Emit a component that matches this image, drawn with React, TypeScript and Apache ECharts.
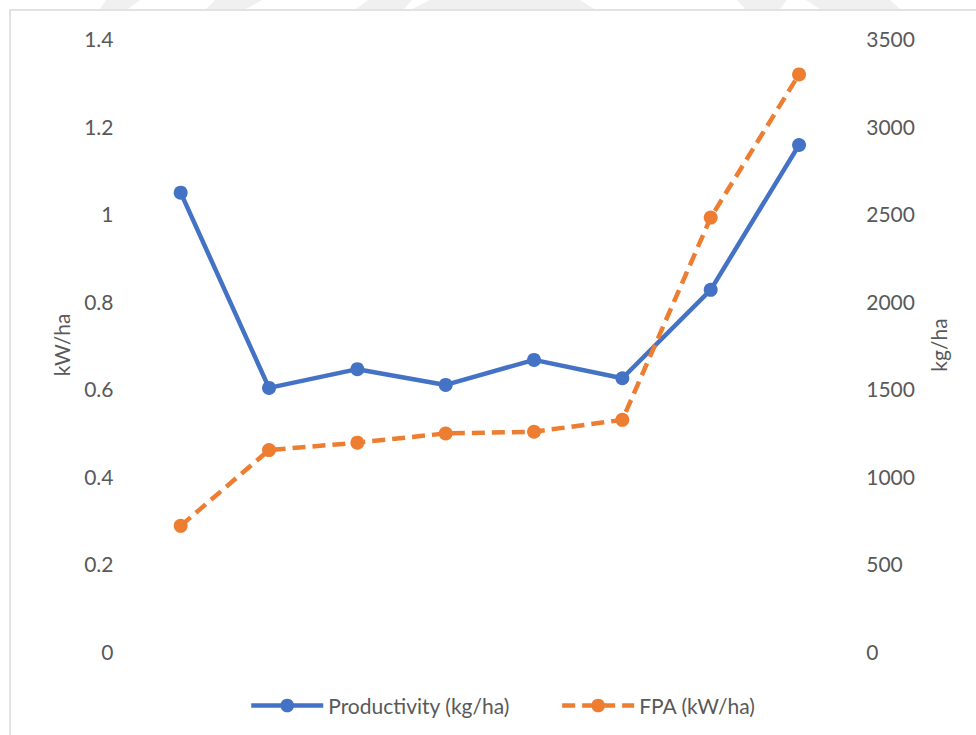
import React, { useEffect, useRef } from "react";
import * as echarts from "echarts";

// Eight sampled sites along the x axis (not labelled on the chart)
const categories = ["1", "2", "3", "4", "5", "6", "7", "8"];
// Productivity in kg/ha (right axis)
const productivity = [2620, 1505, 1612, 1522, 1665, 1560, 2065, 2892];
// Farm power availability in kW/ha (left axis)
const fpa = [0.287, 0.46, 0.477, 0.498, 0.502, 0.529, 0.991, 1.318];

const leftMax = 1.4;
const leftStep = 0.2;
const rightMax = 3500;
const rightStep = 500;

const BLUE = "#4472c4";
const ORANGE = "#ed7d31";
const TEXT = "#595959";
const FONT = "Lato, 'Open Sans', sans-serif";
const FS = 21;

export default function App() {
  const ref = useRef<HTMLDivElement>(null);

  useEffect(() => {
    if (!ref.current) return;
    const chart = echarts.init(ref.current, undefined, { renderer: "svg" });
    chart.setOption({
      animation: false,
      backgroundColor: "#ffffff",
      textStyle: { fontFamily: FONT },
      grid: { left: 136.5, right: 132.8, top: 38.5, bottom: 83.5 },
      legend: {
        left: 244,
        top: 690,
        itemWidth: 72,
        itemHeight: 17,
        itemGap: 50,
        lineStyle: { width: 4.5 },
        textStyle: { color: TEXT, fontSize: FS, fontFamily: FONT },
        data: ["Productivity (kg/ha)", "FPA (kW/ha)"],
      },
      graphic: [
        {
          type: "rect",
          z: -1,
          shape: { x: 10, y: 10, width: 1000, height: 1000 },
          style: { fill: "none", stroke: "#d9d9d9", lineWidth: 1.5 },
        },
        {
          type: "polygon",
          z: -1,
          shape: { points: [[106, 0], [140, 0], [128, 9], [100, 9]] },
          style: { fill: "#f0f0f0" },
        },
        {
          type: "polygon",
          z: -1,
          shape: { points: [[215, 0], [262, 0], [246, 9], [206, 9]] },
          style: { fill: "#f0f0f0" },
        },
        {
          type: "polygon",
          z: -1,
          shape: { points: [[368, 0], [412, 0], [404, 9], [356, 9]] },
          style: { fill: "#f0f0f0" },
        },
        {
          type: "polygon",
          z: -1,
          shape: { points: [[430, 0], [580, 0], [594, 9], [412, 9]] },
          style: { fill: "#f0f0f0" },
        },
        {
          type: "polygon",
          z: -1,
          shape: { points: [[737, 0], [787, 0], [780, 9], [745, 9]] },
          style: { fill: "#f0f0f0" },
        },
        {
          type: "polygon",
          z: -1,
          shape: { points: [[806, 0], [890, 0], [900, 9], [820, 9]] },
          style: { fill: "#f0f0f0" },
        },
      ],
      xAxis: {
        type: "category",
        data: categories,
        boundaryGap: true,
        axisLine: { show: false },
        axisTick: { show: false },
        axisLabel: { show: false },
        splitLine: { show: false },
      },
      yAxis: [
        {
          type: "value",
          name: "kW/ha",
          nameLocation: "middle",
          nameRotate: 90,
          nameGap: 65,
          nameTextStyle: { color: TEXT, fontSize: FS, fontFamily: FONT },
          min: 0,
          max: leftMax,
          interval: leftStep,
          axisLine: { show: false },
          axisTick: { show: false },
          splitLine: { show: false },
          axisLabel: { color: TEXT, fontSize: FS, fontFamily: FONT, margin: 23 },
        },
        {
          type: "value",
          name: "kg/ha",
          nameLocation: "middle",
          nameRotate: 90,
          nameGap: 85,
          nameTextStyle: { color: TEXT, fontSize: FS, fontFamily: FONT },
          min: 0,
          max: rightMax,
          interval: rightStep,
          position: "right",
          axisLine: { show: false },
          axisTick: { show: false },
          splitLine: { show: false },
          axisLabel: {
            color: TEXT,
            fontSize: FS,
            fontFamily: FONT,
            margin: 23,
            formatter: (v: number) => String(v),
          },
        },
      ],
      series: [
        {
          name: "Productivity (kg/ha)",
          type: "line",
          yAxisIndex: 1,
          data: productivity,
          symbol: "circle",
          symbolSize: 14,
          itemStyle: { color: BLUE },
          lineStyle: { color: BLUE, width: 4.5 },
        },
        {
          name: "FPA (kW/ha)",
          type: "line",
          yAxisIndex: 0,
          data: fpa,
          symbol: "circle",
          symbolSize: 14,
          itemStyle: { color: ORANGE },
          lineStyle: { color: ORANGE, width: 4.5, type: [13, 7] },
        },
      ],
    });
    return () => chart.dispose();
  }, []);

  return (
    <div
      ref={ref}
      style={{ position: "fixed", left: 0, top: 0, width: 976, height: 735 }}
    />
  );
}
